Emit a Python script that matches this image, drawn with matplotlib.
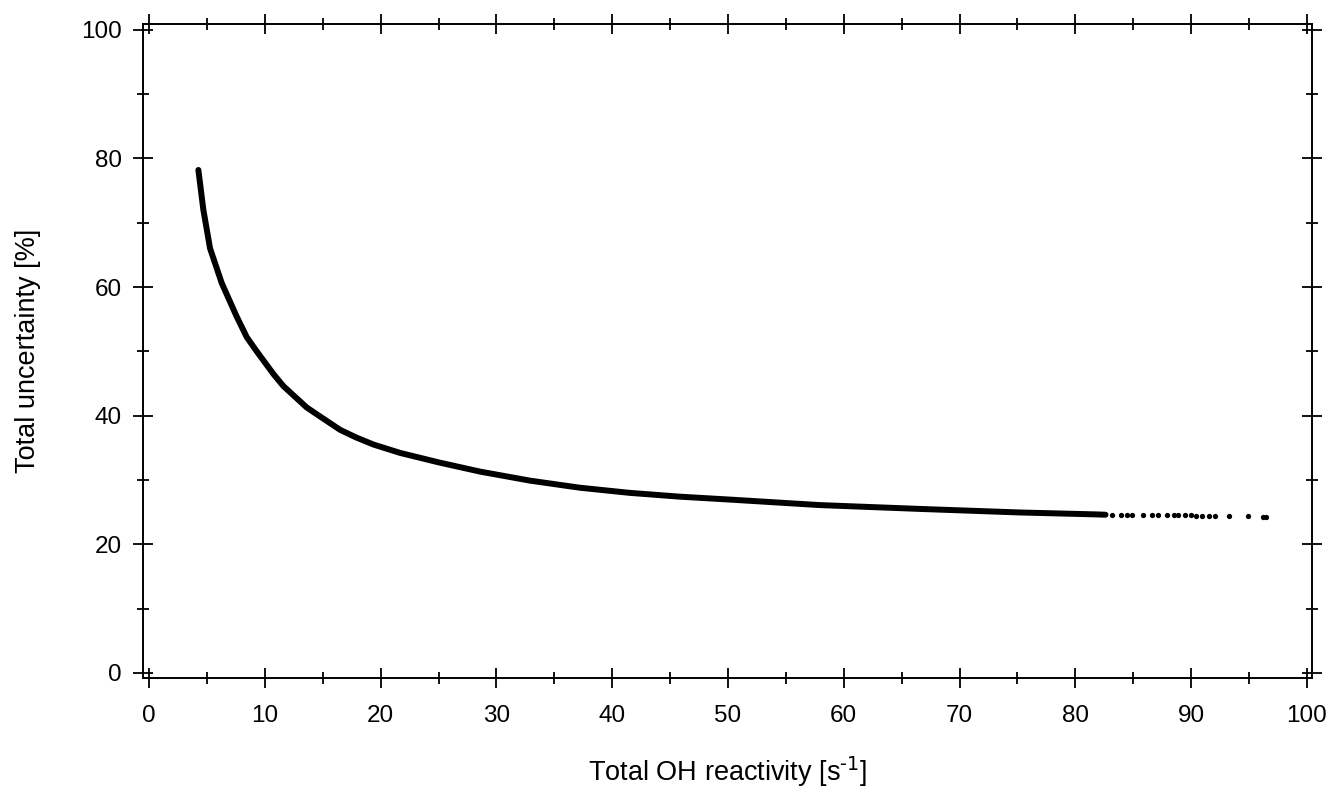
import matplotlib
matplotlib.use("Agg")
import matplotlib.pyplot as plt
from matplotlib.ticker import MultipleLocator

plt.rcParams["font.family"] = ["Liberation Sans", "DejaVu Sans"]
plt.rcParams["mathtext.default"] = "regular"

# Continuous part of the uncertainty curve (densely sampled points)
reactivity = [4.26, 4.69, 5.27, 6.28, 7.57, 8.44, 9.30, 10.73, 11.6, 13.6,
              14.5, 16.5, 17.9, 19.4, 21.7, 25.1, 28.6, 32.9, 37.2, 41.5,
              45.9, 50.2, 57.9, 66.6, 75.2, 81.8, 82.6]
uncertainty = [78.2, 72.0, 66.0, 60.6, 55.4, 52.2, 50.0, 46.5, 44.6, 41.3,
               40.2, 37.8, 36.6, 35.5, 34.2, 32.7, 31.3, 29.9, 28.8, 28.0,
               27.4, 26.95, 26.1, 25.5, 24.95, 24.65, 24.6]

# Sparse high-reactivity samples
tail_reactivity = [83.2, 83.9, 84.5, 84.9, 85.8, 86.6, 87.1, 87.9, 88.5, 88.9,
                   89.5, 90.0, 90.4, 90.9, 91.5, 92.1, 93.3, 94.9, 96.2, 96.5]
tail_uncertainty = [24.6, 24.6, 24.6, 24.6, 24.5, 24.5, 24.5, 24.5, 24.5, 24.5,
                    24.5, 24.5, 24.4, 24.4, 24.4, 24.4, 24.4, 24.4, 24.3, 24.3]

fig = plt.figure(figsize=(13.33, 7.91), dpi=100)
ax = fig.add_axes([0.1073, 0.1429, 0.8769, 0.8268])

ax.plot(reactivity, uncertainty, color="black", lw=4.3,
        solid_capstyle="round", solid_joinstyle="round")
ax.plot(tail_reactivity, tail_uncertainty, "o", color="black", ms=3.8, mew=0)

ax.set_xlim(-0.52, 100.43)
ax.set_ylim(-0.78, 100.9)
ax.xaxis.set_major_locator(MultipleLocator(10))
ax.xaxis.set_minor_locator(MultipleLocator(5))
ax.yaxis.set_major_locator(MultipleLocator(20))
ax.yaxis.set_minor_locator(MultipleLocator(10))

ax.tick_params(which="both", direction="inout", top=True, right=True,
               width=1.3, color="black")
ax.tick_params(which="major", length=14.4, labelsize=17.5)
ax.tick_params(axis="x", which="major", pad=12)
ax.tick_params(axis="y", which="major", pad=8)
ax.tick_params(which="minor", length=8.2)
for s in ax.spines.values():
    s.set_linewidth(1.4)

ax.set_xlabel(r"Total OH reactivity [s$^{\text{-1}}$]", fontsize=19.5, labelpad=20)
ax.set_ylabel("Total uncertainty [%]", fontsize=19.5, labelpad=29)

fig.savefig("out.png", dpi=100)
